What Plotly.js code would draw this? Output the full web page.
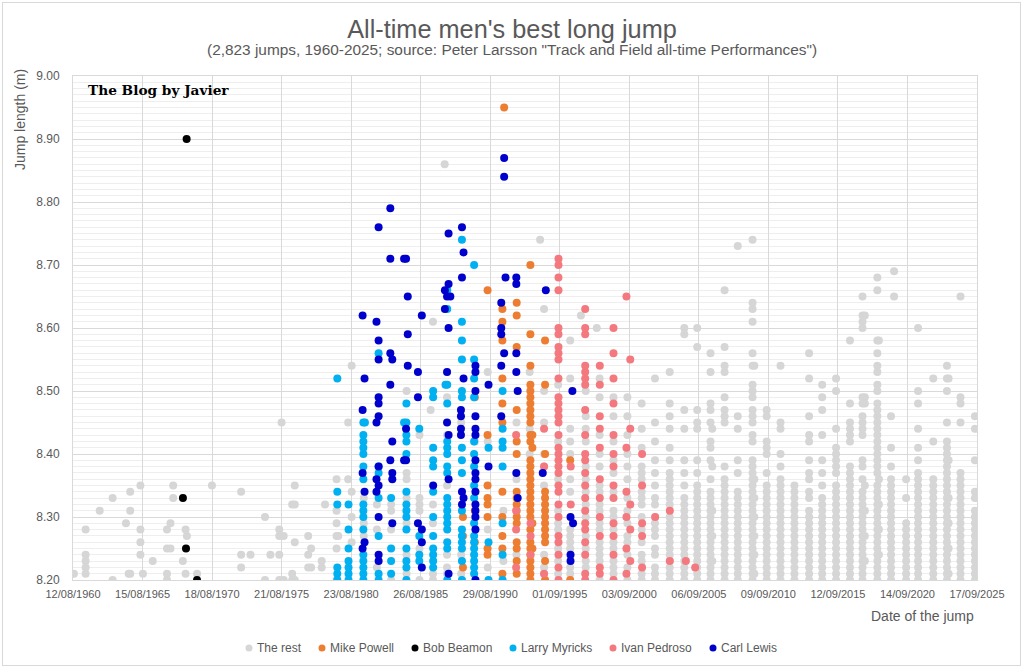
<!DOCTYPE html>
<html>
<head>
<meta charset="utf-8">
<script src="https://cdn.plot.ly/plotly-3.0.1.min.js"></script>
<style>
html,body{margin:0;padding:0;background:#fff;}
#chart{width:1024px;height:669px;}
#frame{position:absolute;left:2px;top:2px;width:1017px;height:662px;border:1px solid #d9d9d9;pointer-events:none;}
</style>
</head>
<body>
<div id="chart"></div>
<div id="frame"></div>
<script>
// ---------- DATA (season dates and jumps in metres) ----------
const seriesNames = ["The rest", "Mike Powell", "Bob Beamon", "Larry Myricks", "Ivan Pedroso", "Carl Lewis"];

const restDates = [
 '1960-09-05','1961-07-10','1962-07-15','1963-06-20','1964-06-05','1964-08-15','1964-09-25','1965-06-20','1965-08-25','1966-05-10',
 '1967-05-20','1967-08-20','1967-10-30','1968-07-10','1968-09-20','1968-10-25','1969-07-20','1970-08-15','1972-09-20','1973-05-25',
 '1974-06-10','1974-10-30','1975-06-20','1975-08-20','1975-10-15','1976-05-25','1976-08-01','1977-07-20','1977-10-05','1978-07-10',
 '1978-10-05','1979-08-05','1979-09-20','1980-06-05','1980-09-05','1981-07-20','1982-07-01','1983-07-10','1984-08-20','1985-07-25',
 '1986-05-15','1986-07-15','1987-05-19','1987-07-20','1988-07-25','1989-07-20','1990-06-25','1991-08-10','1992-07-20','1993-07-01',
 '1994-04-02','1994-07-15','1995-07-20','1996-06-01','1997-03-10','1997-07-15','1998-05-01','1998-07-15','1999-07-15','2000-07-15',
 '2001-07-25','2002-07-10','2003-08-01','2004-08-20','2005-07-25','2006-07-10','2006-08-25','2007-07-15','2008-06-25','2009-07-20','2009-09-05',
 '2010-07-25','2011-07-25','2012-07-25','2013-08-15','2014-07-25','2015-07-25','2016-07-25','2017-06-20','2017-08-20','2018-07-15',
 '2018-08-25','2019-07-10','2019-09-28','2020-08-10','2021-06-20','2022-07-25','2023-07-20','2023-09-01','2024-07-10','2025-07-25','2025-09-05'
];
const restJumps = [
 [8.21],[8.28,8.24,8.23,8.22,8.21],[8.31],[8.33,8.20],[8.29],[8.21],[8.34,8.31,8.21],[8.35,8.28,8.26,8.24],[8.21],[8.23],
 [8.28,8.25,8.21,8.20],[8.29,8.25],[8.35,8.33],[8.23],[8.28,8.21],[8.27],[8.21],[8.35],[8.34,8.24,8.22],[8.24],
 [8.30,8.20],[8.24],[8.28,8.27,8.24,8.20],[8.45],[8.27,8.20],[8.32,8.21,8.20],[8.35,8.32,8.26,8.20],[8.27,8.24,8.22],[8.25,8.22],[8.23,8.22],
 [8.32],[8.36,8.31,8.29,8.27,8.25,8.20],[8.27],[8.36,8.45],[8.54,8.34,8.30,8.26],[8.33,8.29,8.27],[8.32,8.28,8.22],[8.32,8.31,8.28,8.20],[8.50,8.37,8.36,8.33,8.29,8.24,8.21],[8.43,8.33,8.32,8.31,8.25,8.20],
 [8.47],[8.61,8.32,8.29,8.21,8.20],[8.86],[8.53,8.49,8.43,8.35,8.24,8.22,8.21],[8.45,8.24,8.21],[8.42,8.30],[8.53,8.42,8.28,8.22],[8.31,8.23],[8.45,8.36,8.24],[8.53,8.44,8.40],
 [8.74],[8.63,8.50,8.45,8.40,8.38,8.35,8.24,8.22,8.21],[8.51,8.42,8.36,8.31,8.29,8.28,8.25,8.23,8.21],
 [8.58,8.52,8.44,8.42,8.40,8.36,8.34,8.28,8.27,8.26,8.25,8.22,8.21],[8.62],
 [8.50,8.46,8.44,8.42,8.38,8.36,8.34,8.32,8.30,8.27,8.25,8.23,8.22],[8.60],
 [8.52,8.49,8.43,8.40,8.38,8.35,8.34,8.32,8.31,8.29,8.28,8.26,8.25,8.24,8.23,8.20],
 [8.49,8.46,8.42,8.39,8.37,8.34,8.31,8.30,8.28,8.26,8.25,8.23,8.22,8.21],
 [8.49,8.46,8.43,8.40,8.38,8.36,8.33,8.31,8.29,8.27,8.26,8.24,8.22,8.20],
 [8.48,8.44,8.41,8.38,8.37,8.36,8.34,8.33,8.32,8.30,8.28,8.26,8.24,8.23,8.21,8.20],
 [8.52,8.45,8.42,8.39,8.37,8.35,8.33,8.32,8.30,8.29,8.28,8.27,8.25,8.24,8.22,8.21,8.20],
 [8.53,8.48,8.46,8.44,8.41,8.39,8.37,8.36,8.35,8.34,8.33,8.32,8.30,8.29,8.28,8.27,8.26,8.25,8.24,8.23,8.22,8.21,8.20],
 [8.60,8.59,8.47,8.44,8.39,8.37,8.35,8.33,8.32,8.31,8.30,8.29,8.28,8.27,8.26,8.25,8.24,8.23,8.22,8.21,8.20],
 [8.60,8.57,8.47,8.45,8.44,8.39,8.37,8.35,8.34,8.33,8.32,8.31,8.30,8.29,8.28,8.27,8.26,8.25,8.24,8.23,8.22,8.21,8.20],
 [8.56,8.53,8.48,8.47,8.45,8.42,8.41,8.39,8.36,8.34,8.33,8.32,8.31,8.30,8.29,8.28,8.27,8.26,8.25,8.24,8.23,8.22,8.21,8.20],
 [8.44,8.38,8.31,8.27,8.23],
 [8.66,8.57,8.54,8.53,8.49,8.47,8.46,8.45,8.38,8.36,8.35,8.34,8.33,8.32,8.31,8.30,8.29,8.28,8.27,8.26,8.25,8.24,8.23,8.22,8.21,8.20],
 [8.73,8.46,8.44,8.39,8.37,8.34,8.33,8.32,8.31,8.30,8.29,8.28,8.27,8.26,8.25,8.24,8.23,8.22,8.21,8.20],
 [8.74,8.64,8.63,8.61,8.56,8.54,8.51,8.50,8.49,8.47,8.46,8.45,8.43,8.42,8.39,8.38,8.37,8.36,8.35,8.34,8.33,8.32,8.31,8.30,8.29,8.28,8.27,8.26,8.25,8.24,8.23,8.22,8.21,8.20],
 [8.54,8.36,8.33,8.30,8.27,8.24,8.21],
 [8.47,8.46,8.42,8.41,8.40,8.37,8.35,8.34,8.33,8.32,8.31,8.30,8.29,8.28,8.27,8.26,8.25,8.24,8.23,8.22,8.21,8.20],
 [8.54,8.45,8.44,8.40,8.38,8.36,8.35,8.34,8.33,8.32,8.31,8.30,8.29,8.28,8.27,8.26,8.25,8.24,8.23,8.22,8.21,8.20],
 [8.35,8.34,8.33,8.32,8.31,8.30,8.29,8.28,8.27,8.26,8.25,8.24,8.23,8.22,8.21,8.20],
 [8.56,8.52,8.46,8.43,8.42,8.39,8.37,8.36,8.34,8.33,8.31,8.30,8.29,8.28,8.27,8.26,8.25,8.24,8.23,8.22,8.21,8.20],
 [8.51,8.49,8.47,8.43,8.39,8.37,8.35,8.33,8.32,8.31,8.30,8.29,8.28,8.27,8.26,8.25,8.24,8.23,8.22,8.21,8.20],
 [8.52,8.50,8.44,8.41,8.40,8.39,8.38,8.37,8.35,8.34,8.33,8.32,8.31,8.30,8.29,8.28,8.27,8.26,8.25,8.24,8.23,8.22,8.21,8.20],
 [8.58,8.48,8.45,8.44,8.43,8.42,8.38,8.37,8.36,8.35,8.34,8.33,8.32,8.31,8.30,8.29,8.28,8.27,8.26,8.25,8.24,8.23,8.22,8.21,8.20],
 [8.65,8.62,8.61,8.60,8.49,8.48,8.46,8.45,8.44,8.43,8.39,8.38,8.36,8.34,8.33,8.32,8.31,8.30,8.29,8.28,8.27,8.26,8.25,8.24,8.23,8.22,8.21,8.20],
 [8.62,8.49,8.48,8.35,8.31,8.27,8.23],
 [8.68,8.66,8.58,8.56,8.54,8.53,8.51,8.50,8.48,8.47,8.46,8.45,8.44,8.43,8.42,8.41,8.40,8.39,8.38,8.37,8.35,8.34,8.33,8.32,8.31,8.30,8.29,8.28,8.27,8.26,8.25,8.24,8.23,8.22,8.21,8.20],
 [8.58,8.36,8.32,8.28,8.24],
 [8.46,8.41,8.38,8.36,8.35,8.34,8.33,8.32,8.31,8.30,8.29,8.28,8.27,8.26,8.25,8.24,8.23,8.22,8.21,8.20],
 [8.69,8.65],
 [8.36,8.33,8.29,8.28,8.27,8.26,8.25,8.24,8.23,8.22,8.21,8.20],
 [8.60,8.50,8.48,8.44,8.41,8.39,8.37,8.36,8.35,8.34,8.33,8.32,8.31,8.30,8.29,8.28,8.27,8.26,8.25,8.24,8.23,8.22,8.21,8.20],
 [8.52,8.42,8.36,8.35,8.34,8.33,8.32,8.31,8.30,8.29,8.28,8.27,8.26,8.25,8.24,8.23,8.22,8.21,8.20],
 [8.54,8.52,8.50,8.45,8.42,8.41,8.40,8.39,8.38,8.37,8.36,8.35,8.34,8.33,8.32,8.31,8.30,8.29,8.28,8.27,8.26,8.25,8.24,8.23,8.22,8.21,8.20],
 [8.52,8.39,8.33,8.29,8.25,8.21],
 [8.65,8.49,8.48,8.45,8.37,8.36,8.35,8.34,8.33,8.32,8.31,8.30,8.29,8.28,8.27,8.26,8.25,8.24,8.23,8.22,8.21,8.20],
 [8.46,8.44,8.39,8.34,8.33,8.31,8.30,8.29,8.28,8.27,8.26,8.25,8.24,8.23,8.22,8.21,8.20],
 [8.34,8.33,8.30,8.27,8.24,8.22]
];

const powellDates = ['1988-09-10','1989-07-20','1990-06-20','1991-07-15','1991-08-30','1992-07-25','1993-07-20','1993-09-10','1994-08-10','1996-06-01'];
const powellJumps = [
 [8.30,8.27,8.22],
 [8.49,8.31,8.26],
 [8.66,8.43,8.35,8.33,8.32,8.30,8.25,8.24],
 [8.63,8.61,8.58,8.52,8.48,8.45,8.34,8.30,8.27,8.25,8.21],
 [8.95],
 [8.64,8.62,8.57,8.47,8.42,8.40,8.34,8.33,8.32,8.31,8.30,8.29,8.26,8.25,8.23,8.21],
 [8.70,8.59,8.54,8.51,8.50,8.49,8.48,8.47,8.46,8.45,8.43,8.42,8.39,8.38,8.37,8.36,8.35,8.34,8.33,8.32,8.31,8.30,8.28,8.26,8.25,8.24,8.23,8.22,8.21,8.20],
 [8.43,8.41,8.29,8.25],
 [8.58,8.51,8.40,8.34,8.33,8.32,8.31,8.30,8.29,8.28,8.27,8.26,8.23,8.20],
 [8.39,8.20]
];

const beamonDates = ['1968-07-12','1968-10-01','1968-10-18','1969-07-18'];
const beamonJumps = [[8.33],[8.25],[8.90],[8.20]];

const myricksDates = ['1979-08-25','1980-06-15','1981-07-10','1981-08-20','1982-08-15','1983-07-10','1984-06-15','1984-08-15','1985-07-20','1986-07-20',
 '1987-06-10','1987-07-25','1988-08-15','1989-07-01','1990-07-15','1991-07-20'];
const myricksJumps = [
 [8.52,8.34,8.32,8.22,8.21,8.20],
 [8.32,8.28,8.25,8.23,8.22,8.21,8.20],
 [8.45,8.43,8.42,8.41,8.40,8.38,8.36,8.32,8.31,8.30,8.28,8.24,8.23,8.22,8.21,8.20],
 [8.45],
 [8.56,8.38,8.37,8.33,8.27,8.21,8.20],
 [8.33,8.25,8.23,8.21],
 [8.45],
 [8.48,8.45,8.43,8.42,8.40,8.34,8.32,8.31,8.30,8.28,8.25,8.23,8.22,8.20],
 [8.44,8.27,8.24,8.23],
 [8.50,8.49,8.41,8.39,8.38,8.34,8.30,8.27,8.25,8.24,8.23,8.22],
 [8.51],
 [8.66,8.63,8.51,8.48,8.42,8.41,8.40,8.38,8.37,8.33,8.32,8.31,8.30,8.29,8.28,8.26,8.25,8.20],
 [8.74,8.61,8.58,8.55,8.50,8.49,8.41,8.39,8.37,8.31,8.28,8.27,8.26,8.25,8.23,8.20],
 [8.70,8.55,8.52,8.49,8.42,8.40,8.38,8.35,8.33,8.29,8.27,8.26,8.25,8.24,8.23,8.22,8.21],
 [8.41,8.26,8.20],
 [8.50,8.44,8.42,8.41,8.38,8.29,8.24,8.20]
];

const pedrosoDates = ['1992-07-10','1993-07-25','1994-07-15','1995-07-29','1996-06-15','1997-07-01','1998-07-20','1999-07-15','2000-06-20','2000-09-28',
 '2001-08-05','2002-07-15','2003-08-05','2004-09-30','2005-06-01'];
const pedrosoJumps = [
 [8.43,8.31,8.28,8.22],
 [8.29,8.27,8.24],
 [8.44,8.38,8.21],
 [8.71,8.70,8.68,8.66,8.60,8.59,8.57,8.56,8.55,8.52,8.49,8.48,8.47,8.46,8.45,8.43,8.41,8.40,8.39,8.38,8.37,8.35,8.34,8.32,8.30,8.27,8.26,8.24,8.22,8.20],
 [8.38,8.32],
 [8.63,8.60,8.59,8.54,8.53,8.52,8.51,8.47,8.43,8.40,8.39,8.37,8.35,8.33,8.31,8.29,8.28,8.26,8.24,8.21,8.20],
 [8.54,8.51,8.46,8.44,8.41,8.36,8.33,8.30,8.27,8.22,8.21],
 [8.60,8.56,8.52,8.48,8.43,8.40,8.38,8.35,8.33,8.29,8.27,8.24,8.20],
 [8.65,8.41,8.34,8.30,8.25,8.21],
 [8.55,8.44,8.32,8.28,8.23],
 [8.40,8.35,8.29,8.27,8.22],
 [8.30],
 [8.31,8.23],
 [8.23],
 [8.22]
];

const lewisDates = ['1981-06-20','1981-08-10','1982-06-20','1982-08-15','1983-06-19','1983-08-10','1984-06-15','1984-08-06','1984-09-20','1985-06-15',
 '1985-09-25','1986-07-20','1987-05-25','1987-07-20','1987-08-29','1987-10-15','1988-07-20','1988-08-16','1988-09-26','1989-08-05',
 '1990-07-15','1991-06-15','1991-08-30','1991-10-05','1992-07-15','1992-08-20','1994-06-10','1994-08-30','1996-06-10','1996-07-29','1996-08-15'];
const lewisJumps = [
 [8.62,8.47,8.37,8.25],[8.52,8.34,8.26],[8.61,8.45,8.36,8.34],
 [8.76,8.58,8.55,8.49,8.48,8.46,8.38,8.35,8.30,8.24,8.23],
 [8.79,8.71,8.56,8.51,8.39],[8.55,8.42,8.37,8.36,8.29],
 [8.71,8.39],[8.71,8.44,8.39],[8.65,8.59,8.54],
 [8.53,8.49,8.29],[8.62,8.28,8.26,8.22],[8.35],
 [8.66,8.63],[8.65,8.53,8.45],[8.75,8.67,8.60,8.43,8.36,8.21],[8.65],
 [8.47,8.46,8.44,8.43],[8.76,8.68,8.34,8.32],[8.72,8.52,8.33],
 [8.54,8.53,8.50,8.46,8.44,8.43,8.39,8.37,8.36,8.34,8.32,8.31,8.30,8.28,8.20],
 [8.51,8.38],[8.64,8.60,8.59,8.54,8.46],[8.87,8.84,8.56],[8.68],
 [8.68,8.67,8.56,8.53,8.37],[8.50,8.33],[8.37],[8.66],
 [8.30,8.24,8.23],[8.50],[8.29]
];

const xTickLabels = ['12/08/1960','15/08/1965','18/08/1970','21/08/1975','23/08/1980','26/08/1985','29/08/1990',
 '01/09/1995','03/09/2000','06/09/2005','09/09/2010','12/09/2015','14/09/2020','17/09/2025'];

// ---------- STYLE ----------
const colors = ['#d6d6d6', '#ed7d31', '#000000', '#00b0f0', '#f4797f', '#0000cd'];
const FONT = 'Liberation Sans, Arial, sans-serif';
const GREY = '#595959';

function flat(dates, jumps) {
  const x = [], y = [];
  dates.forEach((d, i) => jumps[i].forEach(v => { x.push(d); y.push(v); }));
  return {x, y};
}
const groups = [
  flat(restDates, restJumps), flat(powellDates, powellJumps), flat(beamonDates, beamonJumps),
  flat(myricksDates, myricksJumps), flat(pedrosoDates, pedrosoJumps), flat(lewisDates, lewisJumps)
];
const traces = groups.map((g, i) => ({
  type: 'scatter', mode: 'markers', name: seriesNames[i], x: g.x, y: g.y,
  marker: {size: 8, color: colors[i], line: {width: 0}}, showlegend: false,
  hovertemplate: '%{x|%d/%m/%Y}: %{y:.2f} m<extra>' + seriesNames[i] + '</extra>'
}));

// tick positions from the tick label strings
const tickVals = xTickLabels.map(s => { const p = s.split('/'); return p[2] + '-' + p[1] + '-' + p[0]; });

// plot-area pixel geometry -> paper helpers (layout only)
const M = {l: 73, r: 47, t: 76, b: 89};
const PW = 1024 - M.l - M.r, PH = 669 - M.t - M.b;
const px = v => (v - M.l) / PW;
const py = v => (669 - M.b - v) / PH;

const legendMarkerX = [249, 322, 415, 513, 613, 713];
const legendY = 648;

const shapes = legendMarkerX.map((lx, i) => ({
  type: 'circle', xref: 'paper', yref: 'paper', xsizemode: 'pixel', ysizemode: 'pixel',
  xanchor: px(lx), yanchor: py(legendY), x0: -3.5, x1: 3.5, y0: -3.5, y1: 3.5,
  fillcolor: colors[i], line: {width: 0}
}));

const annotations = legendMarkerX.map((lx, i) => ({
  xref: 'paper', yref: 'paper', x: px(lx + 6), y: py(legendY), xanchor: 'left', yanchor: 'middle',
  text: seriesNames[i], showarrow: false, font: {family: FONT, size: 12, color: GREY}
}));
annotations.push(
  {xref: 'paper', yref: 'paper', x: px(512), y: py(50), xanchor: 'center', yanchor: 'middle', showarrow: false,
   text: '(2,823 jumps, 1960-2025; source: Peter Larsson "Track and Field all-time Performances")',
   font: {family: FONT, size: 15.4, color: GREY}},
  {xref: 'paper', yref: 'paper', x: px(20), y: py(120), xanchor: 'center', yanchor: 'middle', showarrow: false,
   textangle: -90, text: 'Jump length (m)', font: {family: FONT, size: 14, color: GREY}},
  {xref: 'paper', yref: 'paper', x: px(922), y: py(616), xanchor: 'center', yanchor: 'middle', showarrow: false,
   text: 'Date of the jump', font: {family: FONT, size: 14, color: GREY}},
  {xref: 'paper', yref: 'paper', x: px(86), y: py(90), xanchor: 'left', yanchor: 'middle', showarrow: false,
   text: '<b>The Blog by Javier</b>', font: {family: 'DejaVu Serif, Georgia, serif', size: 13.7, color: '#000000'}}
);

const layout = {
  width: 1024, height: 669,
  margin: M,
  paper_bgcolor: '#ffffff', plot_bgcolor: '#ffffff',
  font: {family: FONT, color: GREY},
  title: {text: "All-time men's best long jump", x: 0.5, xanchor: 'center', y: 1 - 29 / 669, yanchor: 'middle',
          font: {family: FONT, size: 25.3, color: GREY}},
  xaxis: {
    type: 'date', range: [tickVals[0], tickVals[tickVals.length - 1]], autorange: false,
    tickmode: 'array', tickvals: tickVals, ticktext: xTickLabels,
    showgrid: true, gridcolor: '#d9d9d9', gridwidth: 1, zeroline: false,
    showline: true, mirror: true, linecolor: '#d9d9d9', linewidth: 1,
    ticks: '', ticklabelstandoff: 4, tickfont: {family: FONT, size: 11, color: GREY}
  },
  yaxis: {
    range: [8.2, 9.0], autorange: false, tick0: 8.2, dtick: 0.1, tickformat: '.2f',
    showgrid: true, gridcolor: '#d9d9d9', gridwidth: 1, zeroline: false,
    showline: true, mirror: true, linecolor: '#d9d9d9', linewidth: 1,
    minor: {tick0: 8.2, dtick: 0.01, showgrid: true, gridcolor: '#eeeeee', gridwidth: 1, ticks: ''},
    ticks: '', ticklabelstandoff: 10, tickfont: {family: FONT, size: 12, color: GREY}
  },
  showlegend: false,
  shapes: shapes,
  annotations: annotations
};

Plotly.newPlot('chart', traces, layout, {displayModeBar: false, staticPlot: true});
</script>
</body>
</html>
